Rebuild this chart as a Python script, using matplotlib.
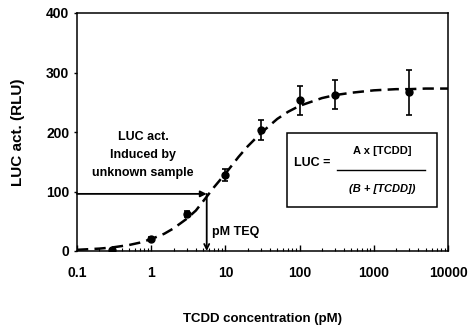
import numpy as np
import matplotlib
matplotlib.use('Agg')
import matplotlib.pyplot as plt
from matplotlib.patches import Rectangle

# measured points (TCDD pM, LUC act. RLU, error)
conc = [0.3, 1, 3, 10, 30, 100, 300, 3000]
luc = [1, 21, 62, 128, 203, 253, 263, 267]
err = [0, 3, 5, 10, 17, 24, 25, 38]

# dashed fit curve
curve_x = [0.1, 0.2, 0.3, 0.5, 0.7, 1, 1.5, 2, 3, 4, 5.5, 7, 10, 15, 20, 30,
           50, 70, 100, 200, 300, 500, 1000, 2000, 3000, 5000, 10000]
curve_y = [2, 4, 6, 10, 14, 20, 29, 38, 54, 68, 90, 107, 130, 158, 176, 198,
           222, 234, 244, 257, 262, 266, 270, 272, 272, 273, 273]

# unknown sample read-back
sample_luc = 96
sample_teq = 5.6

plt.rcParams['font.family'] = ['Liberation Sans', 'DejaVu Sans']
plt.rcParams['font.weight'] = 'bold'

fig = plt.figure(figsize=(4.69, 3.28), dpi=100)
ax = fig.add_axes([77/469, 1-251/328, 371/469, 238/328])

ax.plot(curve_x, curve_y, color='black', lw=1.8, dashes=(4.5, 2.5))
ax.errorbar(conc, luc, yerr=err, fmt='o', color='black', ms=5,
            ecolor='black', elinewidth=1.2, capsize=2.5, capthick=1.2)

# arrows for the unknown sample
ax.annotate('', xy=(sample_teq, sample_luc), xytext=(0.1, sample_luc),
            arrowprops=dict(arrowstyle='-|>', color='black', lw=1.3,
                            mutation_scale=9, shrinkA=0, shrinkB=0))
ax.annotate('', xy=(sample_teq, 0), xytext=(sample_teq, sample_luc),
            arrowprops=dict(arrowstyle='->', color='black', lw=1.3,
                            mutation_scale=9, shrinkA=0, shrinkB=0))

ax.text(0.178, 0.403, 'LUC act.\nInduced by\nunknown sample', transform=ax.transAxes,
        ha='center', va='center', fontsize=9, fontweight='bold', linespacing=1.7)
ax.text(0.365, 0.08, 'pM TEQ', transform=ax.transAxes, ha='left', va='center',
        fontsize=9, fontweight='bold')

# formula box
ax.add_patch(Rectangle((0.566, 0.185), 0.404, 0.311, transform=ax.transAxes,
                       fill=False, lw=1.1, color='black'))
ax.text(0.633, 0.37, 'LUC =', transform=ax.transAxes, ha='center', va='center',
        fontsize=9, fontweight='bold')
ax.text(0.822, 0.42, 'A x [TCDD]', transform=ax.transAxes, ha='center', va='center',
        fontsize=8, fontweight='bold')
ax.plot([0.701, 0.938], [0.34, 0.34], transform=ax.transAxes, color='black', lw=1.0)
ax.text(0.822, 0.262, '(B + [TCDD])', transform=ax.transAxes, ha='center', va='center',
        fontsize=8, fontweight='bold', style='italic')

ax.set_xscale('log')
ax.set_xlim(0.1, 10000)
ax.set_ylim(0, 400)
ax.set_yticks([0, 100, 200, 300, 400])
ax.set_xticks([0.1, 1, 10, 100, 1000, 10000])
ax.set_xticklabels(['0.1', '1', '10', '100', '1000', '10000'])
ax.tick_params(axis='x', which='major', direction='in', length=4, width=1, pad=11, labelsize=10)
ax.tick_params(axis='x', which='minor', direction='in', length=2.5, width=0.8)
ax.tick_params(axis='y', direction='out', length=2.5, width=1, pad=3, labelsize=10)
for lbl in ax.get_xticklabels() + ax.get_yticklabels():
    lbl.set_fontweight('bold')
for s in ax.spines.values():
    s.set_linewidth(1.1)

ax.set_xlabel('TCDD concentration (pM)', fontsize=9.5, fontweight='bold')
ax.set_ylabel('LUC act. (RLU)', fontsize=11, fontweight='bold')
ax.xaxis.set_label_coords(0.5, -0.262)
ax.yaxis.set_label_coords(-0.14, 0.5)

fig.savefig('out.png', dpi=100)
